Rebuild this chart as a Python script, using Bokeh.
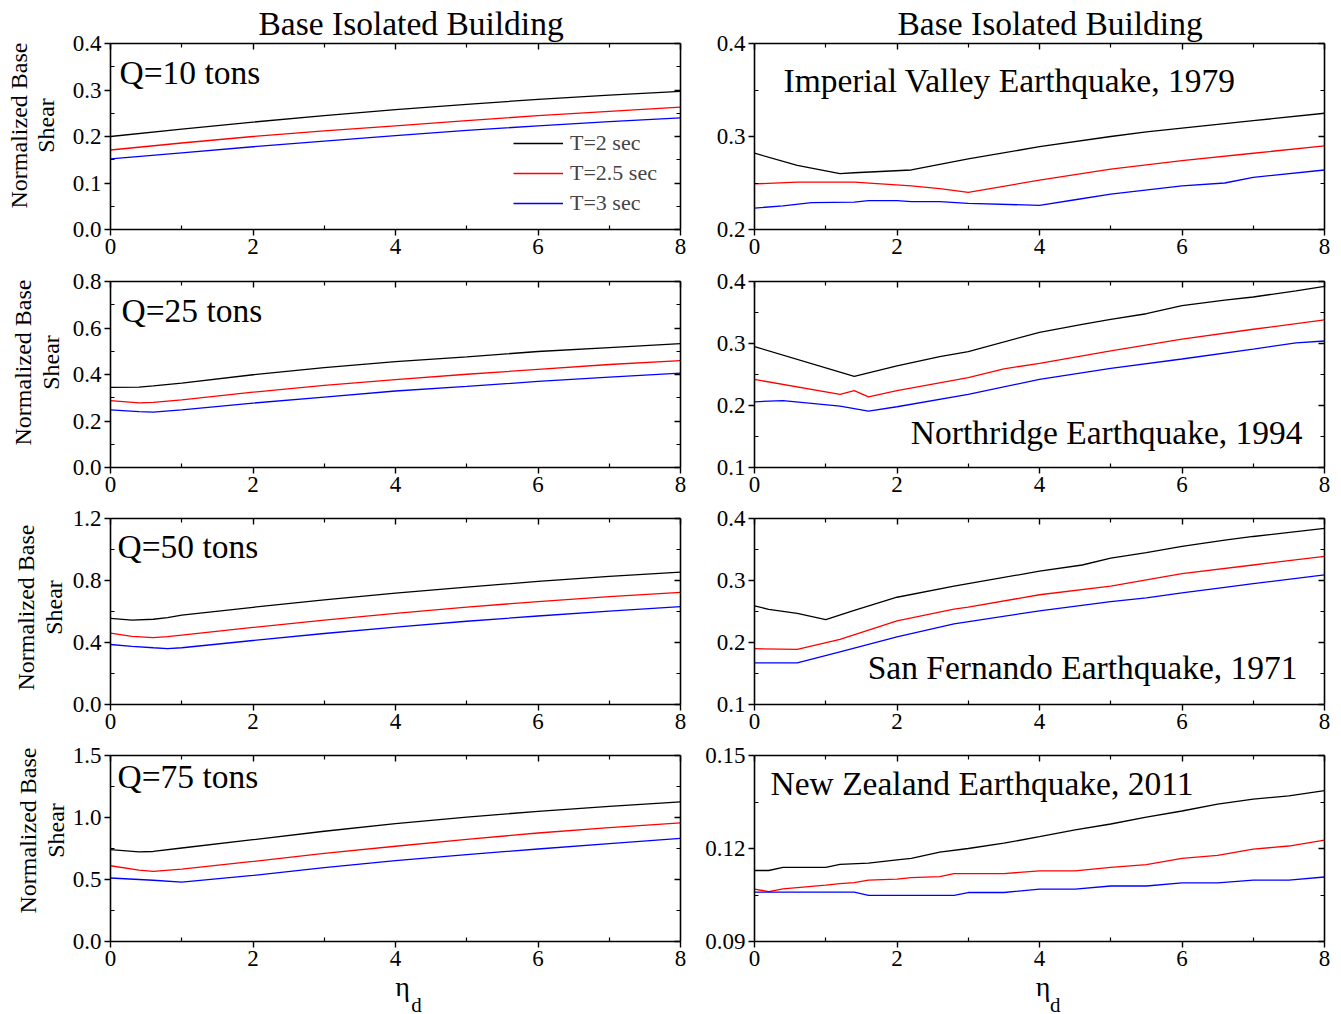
import math
from bokeh.plotting import figure
from bokeh.layouts import column, row
from bokeh.models import (Range1d, FixedTicker, LinearAxis, Label, Legend,
                          LegendItem, PrintfTickFormatter, Title)
from bokeh.embed import file_html
from bokeh.resources import INLINE

FONT = "Liberation Serif"

# ---------------- data (eta_d on x, normalized base shear on y) -------------
series_labels = ["T=2 sec", "T=2.5 sec", "T=3 sec"]
series_colors = ["#000000", "#ff0000", "#0000ff"]

x_ticks = [0, 2, 4, 6, 8]
x_minor = [1, 3, 5, 7]

# Q = 10 tons
q10_eta = [0, 1, 2, 3, 4, 5, 6, 7, 8]
q10_t2 = [0.200, 0.216, 0.231, 0.245, 0.258, 0.269, 0.280, 0.289, 0.297]
q10_t25 = [0.171, 0.186, 0.200, 0.212, 0.223, 0.234, 0.245, 0.254, 0.263]
q10_t3 = [0.152, 0.165, 0.178, 0.190, 0.202, 0.213, 0.223, 0.232, 0.240]

# Q = 25 tons
q25_eta = [0, 0.4, 0.6, 1, 2, 3, 4, 5, 6, 7, 8]
q25_t2 = [0.345, 0.346, 0.351, 0.363, 0.399, 0.430, 0.455, 0.476, 0.499, 0.516, 0.533]
q25_t25 = [0.288, 0.278, 0.280, 0.291, 0.324, 0.353, 0.378, 0.401, 0.422, 0.443, 0.460]
q25_t3 = [0.248, 0.240, 0.238, 0.248, 0.277, 0.303, 0.329, 0.349, 0.370, 0.389, 0.406]

# Q = 50 tons
q50_eta = [0, 0.3, 0.6, 0.8, 1, 2, 3, 4, 5, 6, 7, 8]
q50_t2 = [0.556, 0.545, 0.550, 0.560, 0.577, 0.627, 0.675, 0.718, 0.757, 0.794, 0.826, 0.854]
q50_t25 = [0.461, 0.440, 0.432, 0.438, 0.448, 0.497, 0.545, 0.588, 0.628, 0.664, 0.696, 0.724]
q50_t3 = [0.387, 0.375, 0.366, 0.361, 0.366, 0.413, 0.458, 0.499, 0.537, 0.571, 0.603, 0.631]

# Q = 75 tons
q75_eta = [0, 0.4, 0.6, 1, 2, 3, 4, 5, 6, 7, 8]
q75_t2 = [0.741, 0.722, 0.726, 0.754, 0.821, 0.889, 0.951, 1.003, 1.050, 1.090, 1.126]
q75_t25 = [0.611, 0.575, 0.566, 0.584, 0.646, 0.710, 0.768, 0.824, 0.875, 0.918, 0.956]
q75_t3 = [0.512, 0.500, 0.494, 0.479, 0.533, 0.595, 0.652, 0.701, 0.746, 0.790, 0.832]

# Imperial Valley Earthquake, 1979
iv_eta_t2 = [0, 0.6, 1.2, 1.4, 2.2, 3, 4, 5, 5.5, 6, 7, 8]
iv_t2 = [0.282, 0.269, 0.260, 0.261, 0.264, 0.276, 0.289, 0.300, 0.305, 0.309, 0.317, 0.325]
iv_eta_t25 = [0, 0.6, 1.4, 2.2, 2.6, 3, 4, 5, 6, 7, 8]
iv_t25 = [0.249, 0.251, 0.251, 0.247, 0.244, 0.240, 0.253, 0.265, 0.274, 0.282, 0.290]
iv_eta_t3 = [0, 0.4, 0.8, 1.4, 1.6, 2, 2.2, 2.6, 3, 4, 4.5, 5, 6, 6.6, 7, 8]
iv_t3 = [0.223, 0.2255, 0.229, 0.2295, 0.231, 0.231, 0.230, 0.230, 0.228, 0.226,
         0.232, 0.238, 0.247, 0.250, 0.256, 0.264]

# Northridge Earthquake, 1994
nr_eta_t2 = [0, 1.4, 2, 2.6, 3, 4, 4.6, 5, 5.5, 6, 6.6, 7, 7.6, 8]
nr_t2 = [0.295, 0.247, 0.264, 0.279, 0.287, 0.318, 0.331, 0.339, 0.348, 0.361,
         0.370, 0.375, 0.385, 0.392]
nr_eta_t25 = [0, 1.2, 1.4, 1.6, 2, 3, 3.5, 4, 4.6, 5, 6, 7, 8]
nr_t25 = [0.242, 0.218, 0.224, 0.214, 0.224, 0.245, 0.259, 0.268, 0.280, 0.288,
          0.307, 0.323, 0.338]
nr_eta_t3 = [0, 0.4, 1.2, 1.6, 2, 3, 4, 5, 6, 7, 7.6, 8]
nr_t3 = [0.206, 0.208, 0.199, 0.191, 0.198, 0.218, 0.242, 0.260, 0.275, 0.291, 0.301, 0.304]

# San Fernando Earthquake, 1971
sf_eta_t2 = [0, 0.2, 0.6, 1.0, 1.4, 2, 2.8, 3, 4, 4.6, 5, 5.5, 6, 6.6, 7, 8]
sf_t2 = [0.259, 0.2535, 0.247, 0.237, 0.252, 0.273, 0.291, 0.295, 0.315, 0.325,
         0.336, 0.345, 0.355, 0.365, 0.371, 0.384]
sf_eta_t25 = [0, 0.6, 1.2, 2, 2.8, 3, 4, 5, 5.5, 6, 7, 8]
sf_t25 = [0.190, 0.189, 0.205, 0.235, 0.254, 0.257, 0.277, 0.291, 0.301, 0.311, 0.325, 0.339]
sf_eta_t3 = [0, 0.6, 1.2, 2, 2.8, 4, 5, 5.5, 6, 6.6, 7, 8]
sf_t3 = [0.167, 0.167, 0.185, 0.209, 0.230, 0.251, 0.266, 0.272, 0.280, 0.289, 0.295, 0.309]

# New Zealand Earthquake, 2011
nz_eta_t2 = [0, 0.2, 0.4, 1.0, 1.2, 1.6, 2, 2.2, 2.6, 3, 3.5, 4, 4.5, 5, 5.5, 6,
             6.5, 7, 7.5, 8]
nz_t2 = [0.1129, 0.1129, 0.1139, 0.1139, 0.1149, 0.1153, 0.1163, 0.1168, 0.1188,
         0.1200, 0.1217, 0.1238, 0.1260, 0.1279, 0.1301, 0.1321, 0.1343, 0.1359,
         0.1370, 0.1387]
nz_eta_t25 = [0, 0.2, 0.4, 1.0, 1.2, 1.4, 1.6, 2, 2.2, 2.6, 2.8, 3.5, 4, 4.5, 5,
              5.5, 6, 6.5, 7, 7.5, 8]
nz_t25 = [0.1069, 0.1061, 0.1070, 0.1082, 0.1087, 0.1090, 0.1098, 0.1101, 0.1106,
          0.1109, 0.1119, 0.1119, 0.1128, 0.1128, 0.1139, 0.1148, 0.1168, 0.1178,
          0.1198, 0.1208, 0.1227]
nz_eta_t3 = [0, 1.4, 1.6, 2.8, 3.0, 3.5, 4, 4.5, 5, 5.5, 6, 6.5, 7, 7.5, 8]
nz_t3 = [0.1059, 0.1059, 0.1049, 0.1049, 0.1058, 0.1058, 0.1069, 0.1069, 0.1079,
         0.1079, 0.1089, 0.1089, 0.1098, 0.1098, 0.1108]

# y axes: (start, end, major ticks, minor ticks, format)
yax_q10 = (0.0, 0.4, [0.0, 0.1, 0.2, 0.3, 0.4], [0.05, 0.15, 0.25, 0.35], "%.1f")
yax_q25 = (0.0, 0.8, [0.0, 0.2, 0.4, 0.6, 0.8], [0.1, 0.3, 0.5, 0.7], "%.1f")
yax_q50 = (0.0, 1.2, [0.0, 0.4, 0.8, 1.2], [0.2, 0.6, 1.0], "%.1f")
yax_q75 = (0.0, 1.5, [0.0, 0.5, 1.0, 1.5], [0.25, 0.75, 1.25], "%.1f")
yax_iv = (0.2, 0.4, [0.2, 0.3, 0.4], [0.25, 0.35], "%.1f")
yax_nr = (0.1, 0.4, [0.1, 0.2, 0.3, 0.4], [0.15, 0.25, 0.35], "%.1f")
yax_sf = (0.1, 0.4, [0.1, 0.2, 0.3, 0.4], [0.15, 0.25, 0.35], "%.1f")
yax_nz = (0.09, 0.15, [0.09, 0.12, 0.15], [0.105, 0.135], "%.2f")

column_title = "Base Isolated Building"
y_label_lines = ["Normalized Base", "Shear"]
x_label_main = "\u03b7"
x_label_sub = "d"

# ---------------- layout constants (pixels) ---------------------------------
PAGE_W, PAGE_H = 1341, 1014
FW, FH = 570, 186
STRIP_W = 68
TOPS = [43, 14, 14, 14]
BOTS = [38, 37, 37, 73]
LEFT_B = (42, 22)    # left column figure: min_border_left, min_border_right
RIGHT_B = (52, 17)   # right column figure
TICK_FS = "23px"
NOTE_FS = "33.5px"
NBSP = "\u00a0"


def strip(w, h):
    s = figure(frame_width=w, frame_height=h, x_range=Range1d(0, w),
               y_range=Range1d(0, h), min_border=0, toolbar_location=None,
               output_backend="svg", x_axis_type=None, y_axis_type=None,
               background_fill_color="white", border_fill_color="white")
    s.outline_line_color = None
    return s


def txt(p, x, y, text, size, align="left", angle=0.0):
    p.add_layout(Label(x=x, y=y, text=text, text_font=FONT, text_font_size=size,
                       text_align=align, text_baseline="middle", angle=angle,
                       text_color="black"))


def frac_to_data(p, fx, fy):
    xs, xe = p.x_range.start, p.x_range.end
    ys, ye = p.y_range.start, p.y_range.end
    return xs + fx * (xe - xs), ys + fy * (ye - ys)


def make_panel(col, ri, yax, lines, note, note_fx, note_fy, note_align,
               legend=False, title_offset=None, xlabel_pad=None):
    ys, ye, ymaj, ymin, fmt = yax
    bl, br = LEFT_B if col == 0 else RIGHT_B
    p = figure(frame_width=FW, frame_height=FH, output_backend="svg",
               toolbar_location=None, x_range=Range1d(0, 8),
               y_range=Range1d(ys, ye), min_border_left=bl, min_border_right=br,
               min_border_top=TOPS[ri], min_border_bottom=BOTS[ri],
               background_fill_color="white", border_fill_color="white")
    p.outline_line_color = None
    p.xgrid.visible = False
    p.ygrid.visible = False

    xa = p.xaxis[0]
    ya = p.yaxis[0]
    xa.ticker = FixedTicker(ticks=x_ticks, minor_ticks=x_minor)
    ya.ticker = FixedTicker(ticks=ymaj, minor_ticks=ymin)
    ya.formatter = PrintfTickFormatter(format=fmt)
    for ax in (xa, ya):
        ax.axis_line_width = 1.6
        ax.axis_line_color = "black"
        ax.major_tick_line_width = 1.4
        ax.minor_tick_line_width = 1.2
        ax.major_tick_out = 6
        ax.major_tick_in = 0
        ax.minor_tick_out = 0
        ax.minor_tick_in = 4
        ax.major_label_text_font = FONT
        ax.major_label_text_font_size = TICK_FS
        ax.major_label_text_color = "black"
        ax.major_label_standoff = 3

    if xlabel_pad is not None:
        pad_eta, pad_d = xlabel_pad
        # main symbol of the x title as the axis label
        xa.axis_label = NBSP * pad_eta + x_label_main
        xa.axis_label_text_font = FONT
        xa.axis_label_text_font_size = "28px"
        xa.axis_label_text_font_style = "normal"
        xa.axis_label_text_color = "black"
        xa.axis_label_standoff = 2
        # subscript on a bare second axis right beneath
        sub = LinearAxis(ticker=FixedTicker(ticks=[]), axis_line_color=None,
                         major_tick_line_color=None, minor_tick_line_color=None,
                         major_tick_out=0, major_tick_in=0, minor_tick_out=0,
                         minor_tick_in=0, major_label_text_font_size="1px",
                         major_label_text_alpha=0, major_label_text_color=None,
                         major_label_standoff=0,
                         axis_label=NBSP * pad_d + x_label_sub,
                         axis_label_text_font=FONT, axis_label_text_font_size="21px",
                         axis_label_text_font_style="normal",
                         axis_label_text_color="black", axis_label_standoff=-12)
        p.add_layout(sub, "below")

    for place in ("above", "right"):
        tk = FixedTicker(ticks=x_ticks if place == "above" else ymaj,
                         minor_ticks=x_minor if place == "above" else ymin)
        ax = LinearAxis(ticker=tk, axis_line_width=1.6,
                        major_tick_in=6, major_tick_out=0, minor_tick_in=4,
                        minor_tick_out=0, major_tick_line_width=1.4,
                        minor_tick_line_width=1.2, major_label_text_font_size="1px",
                        major_label_text_color=None, major_label_text_alpha=0,
                        major_label_standoff=0)
        p.add_layout(ax, place)

    if title_offset is not None:
        p.add_layout(Title(text=column_title, align="left", offset=title_offset,
                           vertical_align="top", standoff=0, text_font=FONT,
                           text_font_size="33.5px", text_font_style="normal",
                           text_color="black"), "above")

    rends = []
    for (xv, yv), color in zip(lines, series_colors):
        rends.append(p.line(xv, yv, line_color=color, line_width=1.3))

    x, y = frac_to_data(p, note_fx, note_fy)
    txt(p, x, y, note, NOTE_FS, align=note_align)

    if legend:
        leg = Legend(items=[LegendItem(label=lab, renderers=[r])
                            for lab, r in zip(series_labels, rends)],
                     location=(403, 11))
        leg.border_line_color = None
        leg.background_fill_alpha = 0
        leg.padding = 0
        leg.margin = 0
        leg.spacing = 0
        leg.glyph_width = 50
        leg.glyph_height = 30
        leg.label_height = 30
        leg.label_standoff = 7
        leg.label_text_font = FONT
        leg.label_text_font_size = "22px"
        p.add_layout(leg)
    return p


# ----- one tall strip on the left holding the y-axis titles -----
left_strip = strip(STRIP_W, PAGE_H)
ylab_x = [(18, 45), (22, 50), (25, 53), (27, 55)]
ylab_cy = [125, 362, 607, 830]
for ri in range(4):
    for t, px in zip(y_label_lines, ylab_x[ri]):
        txt(left_strip, px, PAGE_H - ylab_cy[ri], t, "24px",
            align="center", angle=math.pi / 2)

# ----- panels -----
p1 = make_panel(0, 0, yax_q10,
                [(q10_eta, q10_t2), (q10_eta, q10_t25), (q10_eta, q10_t3)],
                "Q=10 tons", 9 / FW, 0.844, "left", legend=True, title_offset=148)
p3 = make_panel(0, 1, yax_q25,
                [(q25_eta, q25_t2), (q25_eta, q25_t25), (q25_eta, q25_t3)],
                "Q=25 tons", 11 / FW, 0.843, "left")
p5 = make_panel(0, 2, yax_q50,
                [(q50_eta, q50_t2), (q50_eta, q50_t25), (q50_eta, q50_t3)],
                "Q=50 tons", 7 / FW, 0.849, "left")
p7 = make_panel(0, 3, yax_q75,
                [(q75_eta, q75_t2), (q75_eta, q75_t25), (q75_eta, q75_t3)],
                "Q=75 tons", 7 / FW, 0.887, "left", xlabel_pad=(2, 8))

p2 = make_panel(1, 0, yax_iv,
                [(iv_eta_t2, iv_t2), (iv_eta_t25, iv_t25), (iv_eta_t3, iv_t3)],
                "Imperial Valley Earthquake, 1979", 29 / FW, 0.80, "left",
                title_offset=143)
p4 = make_panel(1, 1, yax_nr,
                [(nr_eta_t2, nr_t2), (nr_eta_t25, nr_t25), (nr_eta_t3, nr_t3)],
                "Northridge Earthquake, 1994", 548 / FW, 0.19, "right")
p6 = make_panel(1, 2, yax_sf,
                [(sf_eta_t2, sf_t2), (sf_eta_t25, sf_t25), (sf_eta_t3, sf_t3)],
                "San Fernando Earthquake, 1971", 543 / FW, 0.20, "right")
p8 = make_panel(1, 3, yax_nz,
                [(nz_eta_t2, nz_t2), (nz_eta_t25, nz_t25), (nz_eta_t3, nz_t3)],
                "New Zealand Earthquake, 2011", 16 / FW, 0.85, "left",
                xlabel_pad=(1, 6))

main = column(row(p1, p2), row(p3, p4), row(p5, p6), row(p7, p8))
layout = row(left_strip, main)

open("out.html", "w").write(file_html(layout, INLINE))
